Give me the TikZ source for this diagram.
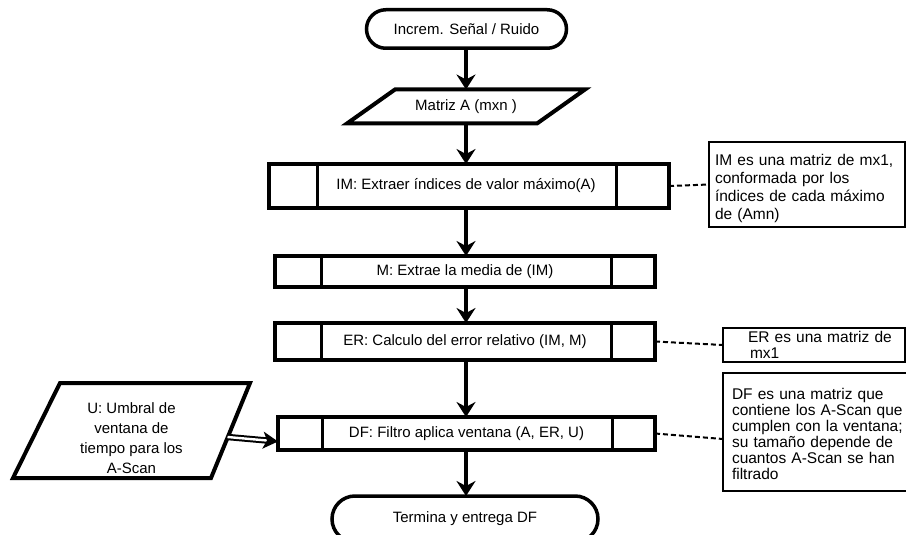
\documentclass[tikz,border=0pt]{standalone}
\usepackage{fontspec}
\setmainfont{Liberation Sans}
\usetikzlibrary{arrows.meta,shapes.misc,calc}
\begin{document}
\begin{tikzpicture}[x=1pt,y=-1pt,
  every node/.style={font=\fontsize{15}{18}\selectfont},
  term/.style={rounded rectangle, draw, line width=3.5pt, inner sep=0pt, outer sep=0pt},
  proc/.style={draw, line width=4pt, inner sep=0pt, outer sep=0pt},
  bar/.style={line width=3pt},
  io/.style={draw=none, inner sep=0pt, outer sep=0pt},
  ioshape/.style={line width=4pt, line join=miter},
  flow/.style={line width=4pt, -{Stealth[length=15pt,width=19pt,inset=5pt]}},
  note/.style={draw, line width=1.2pt, inner sep=0pt, outer sep=0pt, align=left, anchor=north west,
    font=\fontsize{15.5}{16}\selectfont},
  notethick/.style={line width=2.5pt},
  link/.style={line width=2pt, dash pattern=on 5pt off 3pt},
]
\useasboundingbox (0,0) rectangle (906,535);

% start / end terminals
\node[term, minimum width=200pt, minimum height=38.5pt] (start) at (466.5,29) {Increm. Señal / Ruido};
\node[term, minimum width=266pt, minimum height=46pt] (stop) at (465,519) {Termina y entrega DF};

% Matriz A (parallelogram)
\node[io, minimum width=238pt, minimum height=34pt] (mat) at (466,106.5) {Matriz A (mxn )};
\draw[ioshape] ([xshift=48pt]mat.north west) -- (mat.north east) -- ([xshift=-48pt]mat.south east) -- (mat.south west) -- cycle;

% process boxes
\node[proc, minimum width=400pt, minimum height=44pt] (im) at (469,186) {\hspace*{-6pt}IM: Extraer índices de valor máximo(A)};
\draw[bar] ([xshift=48pt]im.north west) -- ([xshift=48pt]im.south west);
\draw[bar] ([xshift=-53pt]im.north east) -- ([xshift=-53pt]im.south east);

\node[proc, minimum width=380pt, minimum height=31pt] (m) at (465,271.5) {M: Extrae la media de (IM)};
\draw[bar] ([xshift=46pt]m.north west) -- ([xshift=46pt]m.south west);
\draw[bar] ([xshift=-44pt]m.north east) -- ([xshift=-44pt]m.south east);

\node[proc, minimum width=380pt, minimum height=37pt] (er) at (465,341.5) {ER: Calculo del error relativo (IM, M)};
\draw[bar] ([xshift=46pt]er.north west) -- ([xshift=46pt]er.south west);
\draw[bar] ([xshift=-44pt]er.north east) -- ([xshift=-44pt]er.south east);

\node[proc, minimum width=377pt, minimum height=33pt] (df) at (466.5,433.5) {DF: Filtro aplica ventana (A, ER, U)};
\draw[bar] ([xshift=44pt]df.north west) -- ([xshift=44pt]df.south west);
\draw[bar] ([xshift=-43pt]df.north east) -- ([xshift=-43pt]df.south east);

% U input (parallelogram)
\node[io, align=center, font=\fontsize{15}{20}\selectfont] (u) at (131.5,438) {U: Umbral de\\ventana de\\tiempo para los\\A-Scan};
\draw[ioshape, shift={(u.center)}] (-71.5,-55) -- (118.5,-55) -- (79.5,40) -- (-118.5,40) -- cycle;
\coordinate (uout) at ($(u.center)+(96,-1)$);

% main flow
\draw[flow] (start.south -| 466,0) -- (mat.north -| 466,0);
\draw[flow] (mat.south -| 466,0) -- (im.north -| 466,0);
\draw[flow] (im.south -| 466,0) -- (m.north -| 466,0);
\draw[flow] (m.south -| 466,0) -- (er.north -| 466,0);
\draw[flow] (er.south -| 466,0) -- (df.north -| 466,0);
\draw[flow] (df.south -| 466,0) -- (stop.north -| 466,0);

% U to DF (double line arrow)
\draw[double=white, double distance=2.4pt, line width=2pt, -{Stealth[length=15pt,width=17pt,inset=4pt]}]
  (uout) -- ([yshift=-8pt]df.west);

% notes
\node[note, minimum width=196pt, minimum height=85pt, text width=184pt, inner xsep=6pt,
  font=\fontsize{15.5}{18}\selectfont] (imnote) at (709,142)
  {\rule{0pt}{19pt}IM es una matriz de mx1,\\conformada por los\\índices de cada máximo\\de (Amn)};
\draw[notethick] (imnote.north west) -- (imnote.south west) -- (imnote.south east);

\node[note, minimum width=182pt, minimum height=34pt, text width=178pt, inner xsep=2pt] (ernote) at (723,328)
  {\hspace*{23pt}ER es una matriz de\\\hspace*{25pt}mx1};
\draw[notethick] (ernote.north west) -- (ernote.south west) -- (ernote.south east);

\node[note, minimum width=182pt, minimum height=118pt, text width=172pt, inner xsep=9pt, inner ysep=0pt] (dfnote) at (723,373)
  {\rule{0pt}{15pt}DF es una matriz que\\contiene los A-Scan que\\cumplen con la ventana;\\su tamaño depende de\\cuantos A-Scan se han\\filtrado};
\draw[notethick] (dfnote.north west) -- (dfnote.south west) -- (dfnote.south east);

% dashed links
\draw[link] (im.east) -- (imnote.west);
\draw[link] (er.east) -- (ernote.west);
\draw[link] (df.east) -- ([yshift=-7pt]dfnote.west);
\end{tikzpicture}
\end{document}
